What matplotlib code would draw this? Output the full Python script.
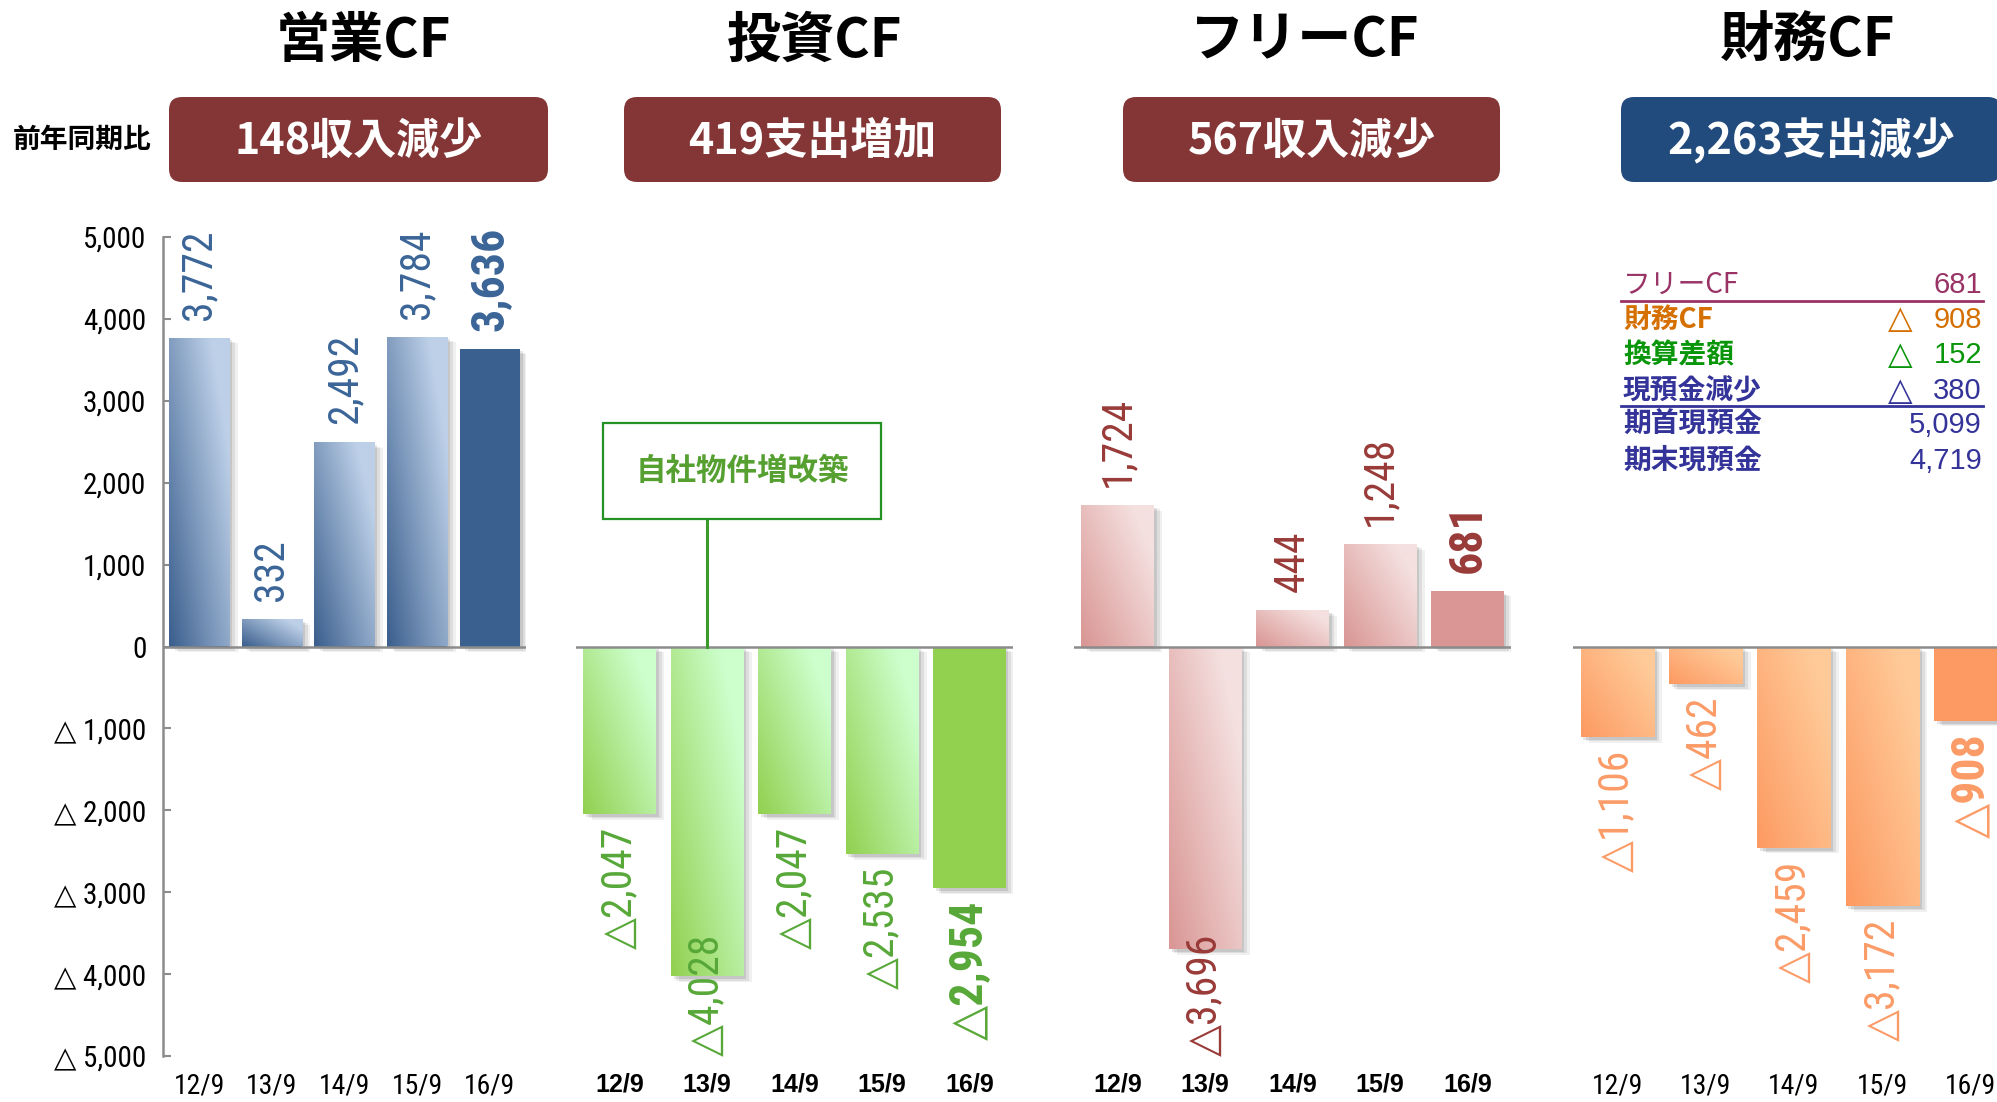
import numpy as np
import matplotlib
matplotlib.use('Agg')
import matplotlib.pyplot as plt
from matplotlib import font_manager
from matplotlib.patches import FancyBboxPatch
from matplotlib.lines import Line2D
from matplotlib.colors import LinearSegmentedColormap
import matplotlib.patheffects as pe

# データ（百万円）
categories = ['12/9', '13/9', '14/9', '15/9', '16/9']
operating_cf = [3772, 332, 2492, 3784, 3636]
investing_cf = [-2047, -4028, -2047, -2535, -2954]
free_cf = [1724, -3696, 444, 1248, 681]
financing_cf = [-1106, -462, -2459, -3172, -908]

panel_titles = ['営業CF', '投資CF', 'フリーCF', '財務CF']
yoy_texts = ['148収入減少', '419支出増加', '567収入減少', '2,263支出減少']
y_ticks = [5000, 4000, 3000, 2000, 1000, 0, -1000, -2000, -3000, -4000, -5000]

summary_labels = ['フリーCF', '財務CF', '換算差額', '現預金減少', '期首現預金', '期末現預金']
summary_values = [681, -908, -152, -380, 5099, 4719]

# 色
badge_colors = ['#843636', '#843636', '#843636', '#224b7d']
bar_dark = ['#3b5f8e', '#92d050', '#d99694', '#fd9a62']
bar_light = ['#bdd0e8', '#ccffcc', '#f4e0df', '#ffca98']
bar_solid = ['#3a6090', '#92d050', '#d99694', '#fd9a64']
label_colors = ['#3b6597', '#57a838', '#983a38', '#fb9b67']
summary_colors = ['#993366', '#d46f00', '#0a960a', '#333399', '#333399', '#333399']

names = {f.name for f in font_manager.fontManager.ttflist}
NARROW = next((n for n in ['Liberation Sans Narrow', 'Roboto Condensed'] if n in names), 'DejaVu Sans')
JP = 'Noto Sans CJK JP'
plt.rcParams['font.family'] = [JP, 'DejaVu Sans']
NUM = [NARROW, 'DejaVu Sans']

W, H = 1997, 1102
fig = plt.figure(figsize=(W / 100, H / 100), dpi=100)


def fx(x):
    return x / W


def fy(y):
    return 1 - y / H


def fmt(v, sep=''):
    return f'{v:,}' if v >= 0 else '△' + sep + f'{-v:,}'


AX_TOP, AX_BOTTOM = 237, 1056
panel_boxes = [(163, 363), (576, 437), (1074, 437), (1573, 442)]
panel_values = [operating_cf, investing_cf, free_cf, financing_cf]

shadow = [pe.SimplePatchShadow(offset=(2, -2), shadow_rgbFace='k', alpha=0.10),
          pe.SimplePatchShadow(offset=(4, -3), shadow_rgbFace='k', alpha=0.08),
          pe.SimplePatchShadow(offset=(6, -4), shadow_rgbFace='k', alpha=0.06),
          pe.Normal()]

axes = []
labels_neg = []
for k, (left, width) in enumerate(panel_boxes):
    ax = fig.add_axes([fx(left), fy(AX_BOTTOM), width / W, (AX_BOTTOM - AX_TOP) / H])
    axes.append(ax)
    vals = panel_values[k]
    xs = np.arange(len(vals))
    cmap = LinearSegmentedColormap.from_list(f'g{k}', [bar_dark[k], bar_light[k]])
    bars = ax.bar(xs, vals, width=0.83, color=bar_solid[k], zorder=2, path_effects=shadow)
    gx, gy = np.meshgrid(np.linspace(0, 1, 40), np.linspace(0, 1, 160))
    grad = np.clip(0.65 * gx + 0.55 * gy, 0, 1)
    for i, bar in enumerate(bars[:-1]):
        x0, w = bar.get_x(), bar.get_width()
        y0, y1 = sorted([0, vals[i]])
        im = ax.imshow(grad, cmap=cmap, extent=(x0, x0 + w, y0, y1), origin='lower',
                       aspect='auto', interpolation='bilinear', zorder=2.5)
        im.set_clip_path(bar)

    ax.axhline(0, color='#8c8c8c', lw=1.8, zorder=4)
    ax.set_xlim(-0.5, len(vals) - 0.5)
    ax.set_ylim(-5000, 5000)
    for s in ax.spines.values():
        s.set_visible(False)
    ax.patch.set_alpha(0)

    ax.set_xticks(xs, categories)
    if k in (1, 2):
        ax.tick_params(axis='x', length=0, pad=12, labelsize=18)
        for t in ax.get_xticklabels():
            t.set_family(['Liberation Sans', 'DejaVu Sans'])
            t.set_fontweight('bold')
    else:
        ax.tick_params(axis='x', length=0, pad=12, labelsize=20)
        for t in ax.get_xticklabels():
            t.set_family(NUM)

    if k == 0:
        ax.spines['left'].set_visible(True)
        ax.spines['left'].set_color('#8c8c8c')
        ax.spines['left'].set_linewidth(1.8)
        ax.set_yticks(y_ticks, [fmt(v, ' ') for v in y_ticks])
        ax.tick_params(axis='y', direction='in', length=6, width=1.5, color='#8c8c8c',
                       pad=12, labelsize=21)
        for t in ax.get_yticklabels():
            t.set_family(NUM)
    else:
        ax.set_yticks([])

    # 値ラベル（縦書き回転）
    for i, v in enumerate(vals):
        last = i == len(vals) - 1
        kw = dict(rotation=90, ha='center', textcoords='offset points', color=label_colors[k],
                  fontsize=33 if last else 30, fontweight='bold' if last else 'normal',
                  family=NUM, zorder=6, annotation_clip=False)
        if v >= 0:
            ax.annotate(fmt(v), (i, v), xytext=(0, 13), va='bottom', **kw)
        else:
            ann = ax.annotate(fmt(v), (i, v), xytext=(0, -9), va='top', **kw)
            labels_neg.append((ax, ann, i))

# 投資CFの注記（箱と引き出し線）
note = axes[1].text(1.40, 2140, '自社物件増改築', ha='center', va='center',
                    fontsize=22, fontweight='bold', color='#55a030', zorder=7,
                    bbox=dict(boxstyle='square,pad=1.05', fc='white', ec='#239123', lw=1.6))

# 見出しと前年同期比
title_x = [363, 815, 1305, 1808]
badge_boxes = [(169, 379), (624, 377), (1123, 377), (1621, 380)]
for k in range(4):
    fig.text(fx(title_x[k]), fy(41), panel_titles[k], ha='center', va='center',
             fontsize=39, fontweight='bold', color='black')
    bx, bw = badge_boxes[k]
    badge = FancyBboxPatch((bx / 100, (H - 182) / 100), bw / 100, 0.85,
                           boxstyle='round,pad=0,rounding_size=0.13',
                           transform=fig.dpi_scale_trans, fc=badge_colors[k], ec='none')
    fig.add_artist(badge)
    fig.text(fx(bx + bw / 2), fy(141), yoy_texts[k], ha='center', va='center',
             fontsize=31, fontweight='bold', color='white')
fig.text(fx(13), fy(140), '前年同期比', ha='left', va='center', fontsize=20, fontweight='bold')

# 現預金の増減表
row_y = [285, 320, 355, 391, 425, 461]
for j, (lab, val) in enumerate(zip(summary_labels, summary_values)):
    c = summary_colors[j]
    fig.text(fx(1623), fy(row_y[j]), lab, ha='left', va='center', fontsize=20,
             fontweight='normal' if j == 0 else 'bold', color=c)
    if val < 0:
        fig.text(fx(1900), fy(row_y[j]), '△', ha='center', va='center', fontsize=23,
                 color=c, family=['DejaVu Sans'])
    fig.text(fx(1982), fy(row_y[j]), f'{abs(val):,}', ha='right', va='center', fontsize=21,
             color=c, family=['Liberation Sans', 'DejaVu Sans'])
for y, c in [(301, '#993366'), (406, '#333399')]:
    fig.add_artist(Line2D([fx(1621), fx(1983)], [fy(y), fy(y)], transform=fig.transFigure,
                          color=c, lw=2))

# 下限を超える負のラベルは軸の下端に揃える
fig.canvas.draw()
renderer = fig.canvas.get_renderer()
for ax, ann, i in labels_neg:
    bottom = ax.transData.transform((0, -5000))[1]
    if ann.get_window_extent(renderer).y0 < bottom:
        ann.xy = (i, -5000)
        ann.xyann = (0, 0)
        ann.set_va('bottom')

# 引き出し線は13/9の棒の中心から注記の箱の下端まで
box_bottom = note.get_bbox_patch().get_window_extent(renderer).y0
box_bottom = axes[1].transData.inverted().transform((0, box_bottom))[1]
axes[1].plot([1, 1], [0, box_bottom], color='#3a9a2a', lw=2.2, zorder=6)

fig.savefig('out.png', dpi=100, facecolor='white')
